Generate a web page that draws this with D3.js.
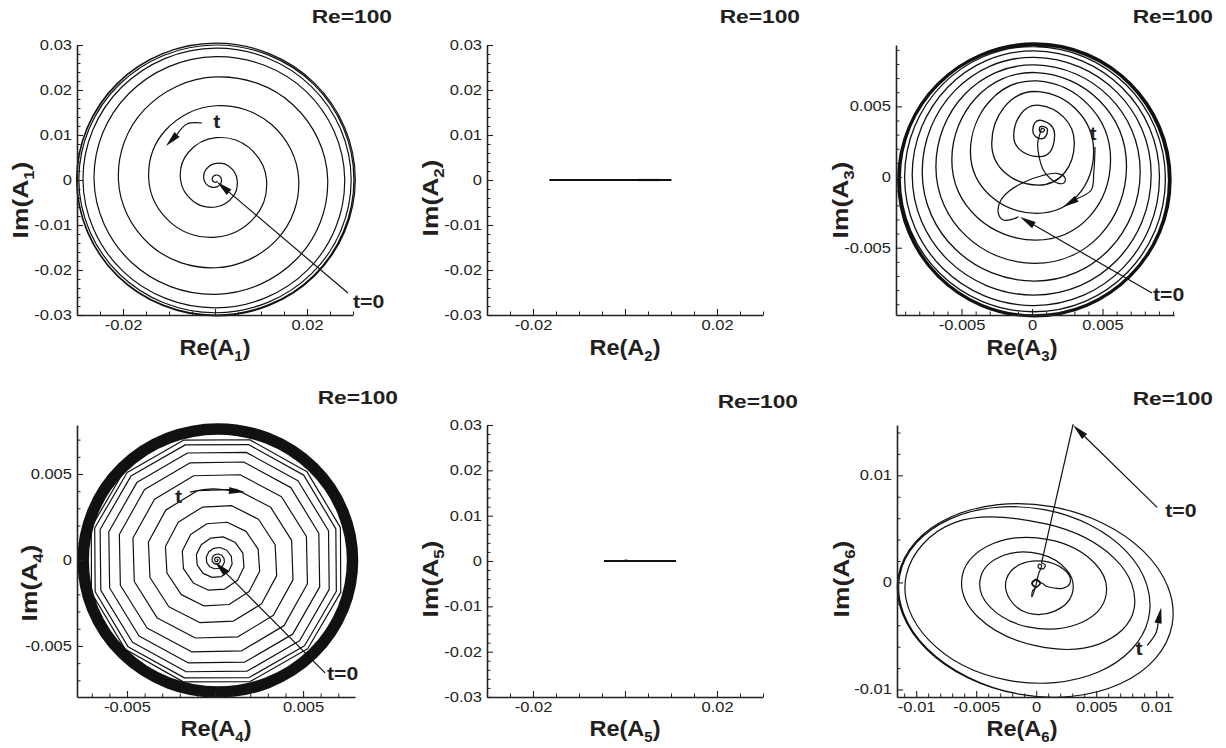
<!DOCTYPE html>
<html>
<head>
<meta charset="utf-8">
<script src="https://cdn.jsdelivr.net/npm/d3@7"></script>
<style>
  body { margin: 0; background: #fff; }
  svg { display: block; }
  text { font-family: "Liberation Sans", Arial, Helvetica, sans-serif; fill: #231f20; }
  .orbit { fill: none; stroke: #111; stroke-linejoin: round; }
  .arrow-line { fill: none; stroke: #111; stroke-width: 1.2; }
  .arrow-head { fill: #111; stroke: none; }
</style>
</head>
<body>
<svg id="chart" width="1226" height="748"></svg>
<script>
// ---------------------------------------------------------------
// Data (all values in Re / Im units)
// ---------------------------------------------------------------

// A1: orbit radius every eighth of a turn, clockwise from the +Re axis
// (first and last entries only steer the spline)
const a1Center = [0.0002, 0.0001];
const a1Radius = [
  0.0002, 0.0004, 0.0006, 0.0007, 0.0008, 0.0009, 0.0010, 0.0011,
  0.0012, 0.0014, 0.0017, 0.0021, 0.0026, 0.0031, 0.0036, 0.0041,
  0.0046, 0.0053, 0.0061, 0.0069, 0.0077, 0.0085, 0.0093, 0.0101,
  0.0110, 0.0119, 0.0128, 0.0137, 0.0146, 0.0155, 0.0164, 0.0172,
  0.0180, 0.0188, 0.0196, 0.0204, 0.0212, 0.0220, 0.0228, 0.0236,
  0.0243, 0.0249, 0.0255, 0.0260, 0.0265, 0.0269, 0.0273, 0.0277,
  0.0280, 0.0283, 0.0285, 0.0287, 0.0289, 0.0290, 0.0292, 0.0293,
  0.0294, 0.0295, 0.0296, 0.0297, 0.0298, 0.0298, 0.0299, 0.0300,
  0.0300, 0.0301, 0.0301, 0.0302, 0.0302, 0.0302, 0.0303, 0.0303,
  0.0303, 0.0303, 0.0303, 0.0303, 0.0303, 0.0303, 0.0303, 0.0303,
  0.0303, 0.0303
];

// A2 and A5 stay on the real axis
const a2Segment = [[-0.01645, 0], [0.0101, 0]];
const a2Overlap = [[0.0029, 0], [0.0076, 0]];
const a5Segment = [[-0.00457, 0], [0.0111, 0]];
const a5Blip = [[-0.0004, 0.00004], [0.0002, 0.00022], [0.0010, 0.00004]];

// A3: start-up transient, then the clockwise spiral (E, S, W, N of each turn)
const a3Transient = [
  [-0.00097, -0.00281], [-0.00133, -0.00297], [-0.00204, -0.00304], [-0.00239, -0.00257],
  [-0.00227, -0.00175], [-0.00168, -0.00104], [-0.00050, -0.00033], [0.00069, 0.00009],
  [0.00175, 0.00026], [0.00234, -0.00005], [0.00229, -0.00040], [0.00187, -0.00045],
  [0.00128, -0.00009], [0.00080, 0.00050], [0.00050, 0.00144], [0.00040, 0.00238],
  [0.00057, 0.00309], [0.00069, 0.00344], [0.00090, 0.00337]
];
const a3Spiral = [
  [0.00069, 0.00344],
  [0.00090, 0.00337], [0.00071, 0.00318], [0.00052, 0.00337], [0.00071, 0.00358],
  [0.00110, 0.00330], [0.00066, 0.00270], [0.00005, 0.00330], [0.00066, 0.00400],
  [0.00160, 0.00290], [0.00054, 0.00144], [-0.00130, 0.00290], [0.00054, 0.00507],
  [0.00300, 0.00238], [0.00045, -0.00057], [-0.00286, 0.00238], [0.00045, 0.00604],
  [0.00437, 0.00179], [0.00035, -0.00257], [-0.00437, 0.00179], [0.00035, 0.00680],
  [0.00557, 0.00120], [0.00026, -0.00446], [-0.00569, 0.00120], [0.00026, 0.00739],
  [0.00670, 0.00073], [0.00021, -0.00611], [-0.00682, 0.00073], [0.00021, 0.00793],
  [0.00767, 0.00038], [0.00017, -0.00736], [-0.00779, 0.00038], [0.00017, 0.00847],
  [0.00845, 0.00014], [0.00014, -0.00835], [-0.00850, 0.00014], [0.00014, 0.00892],
  [0.00904, -0.00002], [0.00012, -0.00909], [-0.00904, -0.00002], [0.00012, 0.00923],
  [0.00946, -0.00012], [0.00012, -0.00953], [-0.00935, -0.00012], [0.00012, 0.00939],
  [0.00968, -0.00021], [0.00014, -0.00975], [-0.00939, -0.00021], [0.00014, 0.00932],
  [0.00975, -0.00021], [0.00014, -0.00982], [-0.00946, -0.00021], [0.00014, 0.00939],
  [0.00982, -0.00021], [0.00014, -0.00989], [-0.00953, -0.00021], [0.00014, 0.00946],
  [0.00986, -0.00017], [0.00021, -0.00982], [-0.00944, -0.00017], [0.00021, 0.00949],
  [0.00975, -0.00019], [0.00016, -0.00977], [-0.00942, -0.00019], [0.00016, 0.00939],
  [0.00968, -0.00020], [0.00014, -0.00975]
];

// A4: radius at every sample (12 samples per turn, clockwise) and the limit-cycle band
const a4Center = [0.0001, 0.0];
const a4Radius = [
  0.00003, 0.00004, 0.00005, 0.00006, 0.00007, 0.00008, 0.00009, 0.00010, 0.00011, 0.00012, 0.00013, 0.00015,
  0.00016, 0.00018, 0.00019, 0.00020, 0.00021, 0.00022, 0.00023, 0.00025, 0.00026, 0.00027, 0.00028, 0.00030,
  0.00033, 0.00036, 0.00039, 0.00042, 0.00045, 0.00048, 0.00050, 0.00053, 0.00056, 0.00059, 0.00062, 0.00065,
  0.00070, 0.00075, 0.00080, 0.00085, 0.00090, 0.00095, 0.00100, 0.00105, 0.00110, 0.00115, 0.00120, 0.00125,
  0.00132, 0.00139, 0.00146, 0.00153, 0.00160, 0.00167, 0.00175, 0.00182, 0.00189, 0.00196, 0.00203, 0.00210,
  0.00218, 0.00227, 0.00235, 0.00243, 0.00252, 0.00260, 0.00268, 0.00277, 0.00285, 0.00293, 0.00302, 0.00310,
  0.00318, 0.00327, 0.00335, 0.00343, 0.00352, 0.00360, 0.00368, 0.00377, 0.00385, 0.00393, 0.00402, 0.00410,
  0.00418, 0.00425, 0.00433, 0.00440, 0.00448, 0.00455, 0.00463, 0.00470, 0.00478, 0.00485, 0.00493, 0.00500,
  0.00507, 0.00513, 0.00520, 0.00527, 0.00533, 0.00540, 0.00547, 0.00553, 0.00560, 0.00567, 0.00573, 0.00580,
  0.00585, 0.00590, 0.00595, 0.00600, 0.00605, 0.00610, 0.00615, 0.00620, 0.00625, 0.00630, 0.00635, 0.00640,
  0.00644, 0.00648, 0.00652, 0.00657, 0.00661, 0.00665, 0.00669, 0.00673, 0.00677, 0.00682, 0.00686, 0.00690,
  0.00693, 0.00695, 0.00698, 0.00700, 0.00703, 0.00705, 0.00708, 0.00710, 0.00713, 0.00715, 0.00718, 0.00720,
  0.00722, 0.00724, 0.00725, 0.00727, 0.00729, 0.00730, 0.00732, 0.00734, 0.00735, 0.00737, 0.00738, 0.00740
];
const a4RingCenter = [0.00016, -0.00003];
const a4Ring = [0.00732, 0.00798];

// A6: jump from t=0, settling near the origin, then growing loops
// (counter-clockwise, eight readings per loop; first and last entries steer the spline)
const a6Jump = [[0.00308, 0.01477], [0.00044, 0.00181]];
const a6Settle = [
  [0.00044, 0.00181], [0.00075, 0.00165], [0.00062, 0.00128], [0.00018, 0.00138], [0.00022, 0.00170],
  [0.00045, 0.00160], [0.00020, 0.00080], [-0.00005, -0.00040], [-0.00036, -0.00135], [-0.00030, -0.00080],
  [0.00000, -0.00045], [0.00032, -0.00012], [0.00002, 0.00022], [-0.00032, -0.00010], [0.00000, -0.00042],
  [0.00036, -0.00008], [0.00000, 0.00030], [-0.00038, -0.00008], [0.00000, -0.00048], [0.00040, -0.00004],
  [0.00080, -0.00036]
];
const a6Loops = [
  [0.00040, -0.00004],
  [0.00080, -0.00036], [0.00218, -0.00055], [0.00286, 0.00012], [0.00228, 0.00123],
  [0.00062, 0.00198], [-0.00133, 0.00169], [-0.00248, 0.00031], [-0.00221, -0.00155],
  [-0.00070, -0.00286], [0.00150, -0.00270], [0.00298, -0.00113], [0.00259, 0.00109],
  [0.00028, 0.00266], [-0.00275, 0.00251], [-0.00462, 0.00053], [-0.00390, -0.00224],
  [-0.00069, -0.00415], [0.00336, -0.00393], [0.00575, -0.00151], [0.00488, 0.00179],
  [0.00104, 0.00400], [-0.00358, 0.00363], [-0.00615, 0.00069], [-0.00483, -0.00325],
  [-0.00006, -0.00591], [0.00523, -0.00576], [0.00816, -0.00245], [0.00652, 0.00225],
  [0.00082, 0.00546], [-0.00675, 0.00561], [-0.01083, 0.00065], [-0.00892, -0.00542],
  [-0.00240, -0.00913], [0.00518, -0.00837], [0.00935, -0.00343], [0.00753, 0.00287],
  [0.00068, 0.00679], [-0.00721, 0.00591], [-0.01138, 0.00060], [-0.00910, -0.00617],
  [-0.00146, -0.01043], [0.00700, -0.00946], [0.01133, -0.00394], [0.00895, 0.00290],
  [0.00129, 0.00707], [-0.00717, 0.00609], [-0.01149, 0.00058], [-0.00912, -0.00626],
  [-0.00146, -0.01043], [0.00700, -0.00946]
];

// annotation arrows (tail ... tip) and their labels
const a1Arrows = [
  [[-0.00283, 0.01267], [-0.00609, 0.01244], [-0.01065, 0.00756]],
  [[0.0289, -0.0251], [0.0004, -0.0004]]
];
const a1Notes = [{text: "t", at: [0.0004, 0.0116], anchor: "middle"}, {text: "t=0", at: [0.0300, -0.0284], anchor: "start"}];
const a3Arrows = [
  [[0.00447, 0.00213], [0.00438, 0.00030], [0.00420, -0.00092], [0.00220, -0.00212]],
  [[0.00851, -0.00820], [-0.00085, -0.00283]]
];
const a3Notes = [{text: "t", at: [0.00433, 0.00262], anchor: "middle"}, {text: "t=0", at: [0.00858, -0.00877], anchor: "start"}];
const a4Arrows = [
  [[-0.00142, 0.00395], [-0.00011, 0.00413], [0.00170, 0.00395]],
  [[0.00625, -0.00657], [0.0, -0.00012]]
];
const a4Notes = [{text: "t", at: [-0.00207, 0.00331], anchor: "middle"}, {text: "t=0", at: [0.00636, -0.00698], anchor: "start"}];
const a6Arrows = [
  [[0.00925, -0.00589], [0.01000, -0.00467], [0.01042, -0.00234]],
  [[0.01008, 0.00701], [0.00308, 0.01467]]
];
const a6Notes = [{text: "t", at: [0.00858, -0.00682], anchor: "middle"}, {text: "t=0", at: [0.01075, 0.00607], anchor: "start"}];

// tick values and tick labels
const wideTicks = [-0.03, -0.02, -0.01, 0, 0.01, 0.02, 0.03];
const wideTickLabels = ["-0.03", "-0.02", "-0.01", "0", "0.01", "0.02", "0.03"];
const wideReTicks = [-0.02, 0, 0.02];
const wideReLabels = ["-0.02", "", "0.02"];
const smallTicks = [-0.005, 0, 0.005];
const smallTickLabels = ["-0.005", "0", "0.005"];
const a4ReLabels = ["-0.005", "", "0.005"];
const a6ReTicks = [-0.01, -0.005, 0, 0.005, 0.01];
const a6ReLabels = ["-0.01", "-0.005", "0", "0.005", "0.01"];
const a6ImTicks = [-0.01, 0, 0.01];
const a6ImLabels = ["-0.01", "0", "0.01"];

// converts radii read at fixed sample angles into Re/Im pairs
function polarPoints(center, radii, startDeg, stepDeg) {
  return radii.map((r, i) => {
    const a = (startDeg + i * stepDeg) * Math.PI / 180;
    return [center[0] + r * Math.cos(a), center[1] + r * Math.sin(a)];
  });
}

// open cardinal splines: the end readings only set the tangents
const circleCurve = d3.curveCardinalOpen.tension(-0.66);
const ellipseCurve = d3.curveCardinalOpen.tension(-0.12);
const smoothCurve = d3.curveCatmullRom.alpha(0.5);

class PhasePanel {

    constructor(_config, _data) {
        this.config = Object.assign({
            majorTick: 6,
            minorTick: 3.5,
            tickFont: 14,
            tickStretch: 1.18
        }, _config);
        this.data = _data;
        this.initVis();
    }

    initVis() {
        let vis = this;
        const c = vis.config;

        vis.xScale = d3.scaleLinear().domain(c.xDomain).range(c.xRange);
        vis.yScale = d3.scaleLinear().domain(c.yDomain).range(c.yRange);

        vis.line = d3.line()
            .x(d => vis.xScale(d[0]))
            .y(d => vis.yScale(d[1]));

        vis.g = d3.select('#chart').append('g').attr('class', 'panel');
        vis.renderVis();
    }

    minorTicks(domain, step, majors) {
        return d3.range(Math.ceil(domain[0] / step - 1e-6), Math.floor(domain[1] / step + 1e-6) + 1)
            .map(i => +(i * step).toFixed(6))
            .filter(v => !majors.some(m => Math.abs(m - v) < 1e-9));
    }

    renderVis() {
        let vis = this;
        const c = vis.config;
        const axisBottomY = c.yRange[0];
        const axisLeftX = c.xRange[0];

        // curves first so that axes sit on top
        const marks = vis.g.append('g');
        (vis.data.bands || []).forEach(b => {
            const rxIn = vis.xScale(b.center[0] + b.radius[0]) - vis.xScale(b.center[0]);
            const rxOut = vis.xScale(b.center[0] + b.radius[1]) - vis.xScale(b.center[0]);
            const ryIn = vis.yScale(b.center[1]) - vis.yScale(b.center[1] + b.radius[0]);
            const ryOut = vis.yScale(b.center[1]) - vis.yScale(b.center[1] + b.radius[1]);
            marks.append('ellipse')
                .attr('cx', vis.xScale(b.center[0]))
                .attr('cy', vis.yScale(b.center[1]))
                .attr('rx', (rxIn + rxOut) / 2)
                .attr('ry', (ryIn + ryOut) / 2)
                .attr('fill', 'none')
                .attr('stroke', '#111')
                .attr('stroke-width', ((rxOut - rxIn) + (ryOut - ryIn)) / 2);
        });

        marks.selectAll('.orbit')
            .data(vis.data.orbits)
            .join('path')
            .attr('class', 'orbit')
            .attr('d', d => vis.line.curve(d.curve)(d.points))
            .attr('stroke', d => d.color || '#111')
            .attr('stroke-width', d => d.width);

        // arrows: a line to the base of a filled head
        (vis.data.arrows || []).forEach(pts => {
            const p = pts.map(d => [vis.xScale(d[0]), vis.yScale(d[1])]);
            const tip = p[p.length - 1], prev = p[p.length - 2];
            const len = Math.hypot(tip[0] - prev[0], tip[1] - prev[1]);
            const ux = (tip[0] - prev[0]) / len, uy = (tip[1] - prev[1]) / len;
            const headL = 16, headW = 3.6;
            const base = [tip[0] - ux * headL, tip[1] - uy * headL];
            marks.append('path')
                .attr('class', 'arrow-line')
                .attr('d', d3.line().curve(smoothCurve)(p.slice(0, -1).concat([base])));
            marks.append('path')
                .attr('class', 'arrow-head')
                .attr('d', `M${tip[0]},${tip[1]}L${base[0] - uy * headW},${base[1] + ux * headW}L${base[0] + uy * headW},${base[1] - ux * headW}Z`);
        });

        marks.selectAll('.note')
            .data(vis.data.notes || [])
            .join('text')
            .attr('class', 'note')
            .attr('x', d => vis.xScale(d.at[0]))
            .attr('y', d => vis.yScale(d.at[1]))
            .attr('text-anchor', d => d.anchor)
            .attr('font-size', 19)
            .attr('font-weight', 'bold')
            .text(d => d.text)
            .call(sel => vis.stretch(sel, 1.12));

        // minor ticks
        vis.g.append('g')
            .attr('transform', `translate(0,${axisBottomY})`)
            .call(d3.axisBottom(vis.xScale).tickValues(vis.minorTicks(c.xDomain, c.xMinor, c.xTicks))
                .tickSize(-c.minorTick).tickFormat(''))
            .call(g => g.select('.domain').remove())
            .call(g => g.selectAll('line').attr('stroke', '#222'));
        vis.g.append('g')
            .attr('transform', `translate(${axisLeftX},0)`)
            .call(d3.axisLeft(vis.yScale).tickValues(vis.minorTicks(c.yDomain, c.yMinor, c.yTicks))
                .tickSize(-c.minorTick).tickFormat(''))
            .call(g => g.select('.domain').remove())
            .call(g => g.selectAll('line').attr('stroke', '#222'));

        // major ticks with labels
        vis.xAxisG = vis.g.append('g')
            .attr('class', 'axis x-axis')
            .attr('transform', `translate(0,${axisBottomY})`)
            .call(d3.axisBottom(vis.xScale).tickValues(c.xTicks)
                .tickSizeInner(-c.majorTick).tickSizeOuter(0).tickPadding(5)
                .tickFormat((d, i) => c.xLabels[i]));
        vis.yAxisG = vis.g.append('g')
            .attr('class', 'axis y-axis')
            .attr('transform', `translate(${axisLeftX},0)`)
            .call(d3.axisLeft(vis.yScale).tickValues(c.yTicks)
                .tickSizeInner(-c.majorTick).tickSizeOuter(0).tickPadding(5)
                .tickFormat((d, i) => c.yLabels[i]));

        [vis.xAxisG, vis.yAxisG].forEach(g => {
            g.attr('font-family', null).attr('font-size', null);
            g.select('.domain').attr('stroke', '#222').attr('stroke-width', 1.6);
            g.selectAll('.tick line').attr('stroke', '#222').attr('stroke-width', 1.1);
            g.selectAll('text').attr('font-size', c.tickFont).attr('fill', '#231f20')
                .call(sel => vis.stretch(sel, c.tickStretch));
        });

        // panel title
        vis.g.append('text')
            .attr('x', c.title[0]).attr('y', c.title[1])
            .attr('text-anchor', 'end')
            .attr('font-size', 18.5).attr('font-weight', 'bold')
            .text('Re=100')
            .call(sel => vis.stretch(sel, 1.23));

        // axis titles with subscripted mode number
        const addTitle = (sel, prefix) => {
            sel.append('tspan').text(prefix + '(A');
            sel.append('tspan').attr('font-size', 14).attr('dy', 6).text(c.mode);
            sel.append('tspan').attr('dy', -6).text(')');
        };
        vis.g.append('text')
            .attr('x', c.reLabel[0]).attr('y', c.reLabel[1])
            .attr('text-anchor', 'middle')
            .attr('font-size', 22).attr('font-weight', 'bold')
            .call(sel => addTitle(sel, 'Re'))
            .call(sel => vis.stretch(sel, 1.07));
        vis.g.append('text')
            .attr('transform', `translate(${c.imLabel[0]},${c.imLabel[1]}) rotate(-90)`)
            .attr('text-anchor', 'middle')
            .attr('font-size', 22).attr('font-weight', 'bold')
            .call(sel => addTitle(sel, 'Im'))
            .call(sel => vis.stretch(sel, 1.2));
    }

    // the original lettering is a little wider than Arial
    stretch(sel, k) {
        sel.each(function () {
            const len = this.getComputedTextLength();
            if (len > 0) {
                d3.select(this).attr('textLength', len * k).attr('lengthAdjust', 'spacingAndGlyphs');
            }
        });
    }
}

// ---------------------------------------------------------------
// Panels
// ---------------------------------------------------------------
new PhasePanel({
    mode: '1', xRange: [77, 353], yRange: [315, 45], xDomain: [-0.03, 0.03], yDomain: [-0.03, 0.03],
    xTicks: wideReTicks, xLabels: wideReLabels, xMinor: 0.005,
    yTicks: wideTicks, yLabels: wideTickLabels, yMinor: 0.002,
    title: [392, 23], reLabel: [215, 355], imLabel: [28, 200]
}, {
    orbits: [{points: polarPoints(a1Center, a1Radius, 0, -45), curve: ellipseCurve, width: 1.2}],
    arrows: a1Arrows, notes: a1Notes
});

new PhasePanel({
    mode: '2', xRange: [487, 763], yRange: [315, 45], xDomain: [-0.03, 0.03], yDomain: [-0.03, 0.03],
    xTicks: wideReTicks, xLabels: wideReLabels, xMinor: 0.005,
    yTicks: wideTicks, yLabels: wideTickLabels, yMinor: 0.002,
    title: [800, 23], reLabel: [625, 355], imLabel: [438, 198]
}, {
    orbits: [
        {points: a2Segment, curve: d3.curveLinear, width: 2.2},
        {points: a2Overlap, curve: d3.curveLinear, width: 2.2, color: '#777'}
    ]
});

new PhasePanel({
    mode: '3', xRange: [896, 1174], yRange: [315, 45], xDomain: [-0.00965, 0.01007], yDomain: [-0.00976, 0.00934],
    xTicks: smallTicks, xLabels: smallTickLabels, xMinor: 0.001,
    yTicks: smallTicks, yLabels: smallTickLabels, yMinor: 0.001,
    title: [1213, 23], reLabel: [1022, 355], imLabel: [848, 200]
}, {
    orbits: [
        {points: a3Transient, curve: smoothCurve, width: 1.2},
        {points: a3Spiral, curve: circleCurve, width: 1.3}
    ],
    arrows: a3Arrows, notes: a3Notes
});

new PhasePanel({
    mode: '4', xRange: [77, 355], yRange: [697, 425], xDomain: [-0.00784, 0.00795], yDomain: [-0.00797, 0.00785],
    xTicks: smallTicks, xLabels: a4ReLabels, xMinor: 0.001,
    yTicks: smallTicks, yLabels: smallTickLabels, yMinor: 0.001,
    title: [398, 404], reLabel: [216, 736], imLabel: [37, 583]
}, {
    bands: [{center: a4RingCenter, radius: a4Ring}],
    orbits: [{points: polarPoints(a4Center, a4Radius, 105, -30), curve: d3.curveLinear, width: 1.2}],
    arrows: a4Arrows, notes: a4Notes
});

new PhasePanel({
    mode: '5', xRange: [487, 763], yRange: [697, 425], xDomain: [-0.03, 0.03], yDomain: [-0.03, 0.03],
    xTicks: wideReTicks, xLabels: wideReLabels, xMinor: 0.005,
    yTicks: wideTicks, yLabels: wideTickLabels, yMinor: 0.002,
    title: [798, 408], reLabel: [625, 736], imLabel: [438, 579]
}, {
    orbits: [
        {points: a5Segment, curve: d3.curveLinear, width: 2.2},
        {points: a5Blip, curve: d3.curveLinear, width: 1.2}
    ]
});

new PhasePanel({
    mode: '6', xRange: [897, 1173], yRange: [697, 425], xDomain: [-0.0116, 0.0114], yDomain: [-0.0107, 0.0147],
    xTicks: a6ReTicks, xLabels: a6ReLabels, xMinor: 0.001,
    yTicks: a6ImTicks, yLabels: a6ImLabels, yMinor: 0.002,
    title: [1213, 405], reLabel: [1022, 736], imLabel: [849, 579]
}, {
    orbits: [
        {points: a6Jump, curve: d3.curveLinear, width: 1.2},
        {points: a6Settle, curve: smoothCurve, width: 1.2},
        {points: a6Loops, curve: ellipseCurve, width: 1.2}
    ],
    arrows: a6Arrows, notes: a6Notes
});
</script>
</body>
</html>
